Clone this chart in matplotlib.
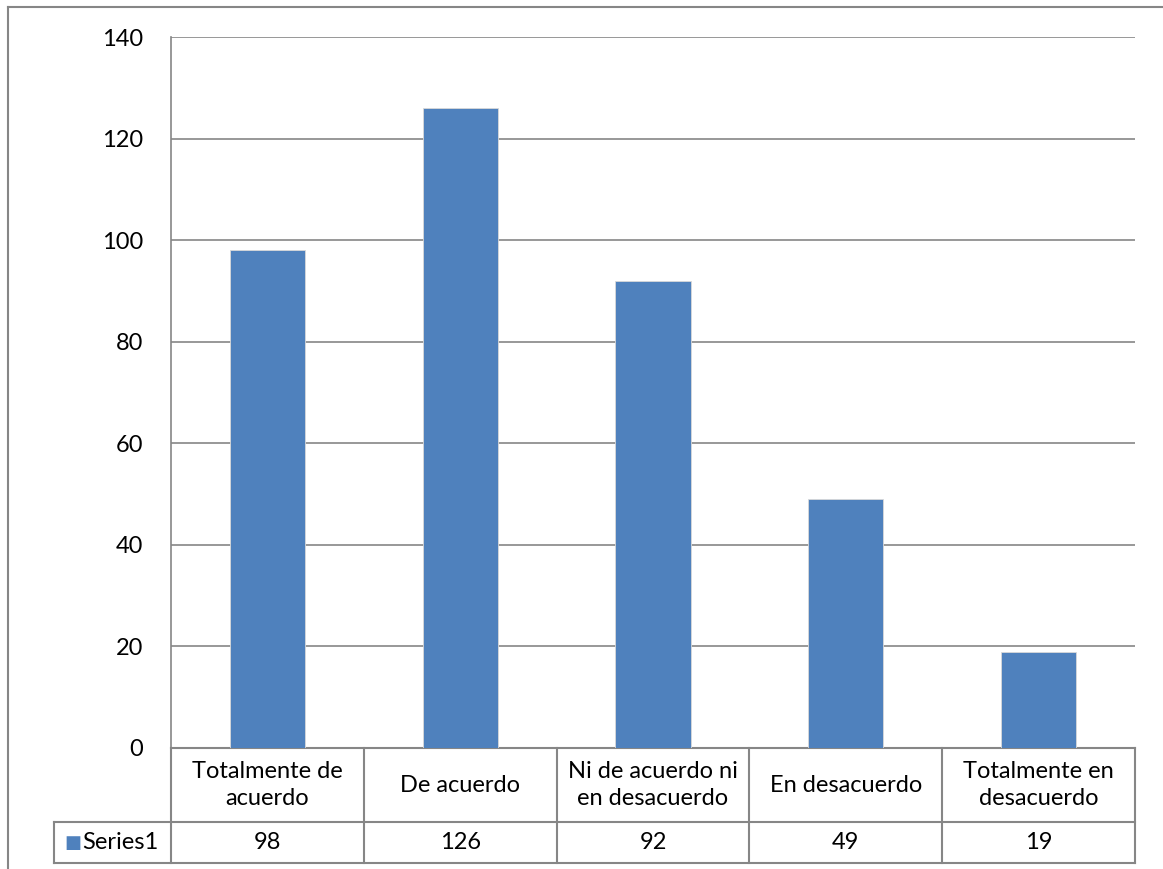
import matplotlib.pyplot as plt
from matplotlib.lines import Line2D
from matplotlib.transforms import blended_transform_factory

categorias = ["Totalmente de\nacuerdo", "De acuerdo", "Ni de acuerdo ni\nen desacuerdo",
              "En desacuerdo", "Totalmente en\ndesacuerdo"]
valores = [98, 126, 92, 49, 19]
serie = "Series1"
yticks = [0, 20, 40, 60, 80, 100, 120, 140]

plt.rcParams['font.family'] = ['Lato', 'DejaVu Sans']
gris = '#868686'
azul = '#4F81BD'
fs = 17

fig = plt.figure(figsize=(11.63, 8.69), dpi=100)
W, H = 1163, 869
ax = fig.add_axes([171 / W, 1 - 748 / H, (1135 - 171) / W, (748 - 37) / H])

x = list(range(len(valores)))
ax.bar(x, valores, width=0.39, color=azul, edgecolor='#d9d9d9', linewidth=0.6, zorder=3)
ax.set_xlim(-0.5, len(valores) - 0.5)
ax.set_ylim(0, 140)
ax.set_yticks(yticks)
ax.set_yticklabels([str(v) for v in yticks], fontsize=fs)
ax.tick_params(axis='y', length=0, pad=20)
ax.set_xticks([])
ax.grid(axis='y', color=gris, linewidth=1.2, zorder=0)
for s in ['top', 'right', 'bottom']:
    ax.spines[s].set_visible(False)
ax.spines['left'].set_color(gris)
ax.spines['left'].set_linewidth(1.2)

# tabla de datos debajo del eje
tr = blended_transform_factory(ax.transData, ax.transAxes)
ph = 748 - 37
y0 = 0
y1 = -(822 - 748) / ph
y2 = -(863 - 748) / ph
colw = (1135 - 171) / len(valores)
xl = -0.5 - (171 - 54) / colw
kw = dict(color=gris, linewidth=1.5, transform=tr, clip_on=False)
n = len(valores)
ax.add_line(Line2D([-0.5, n - 0.5], [y0, y0], **kw))
ax.add_line(Line2D([xl, n - 0.5], [y1, y1], **kw))
ax.add_line(Line2D([xl, n - 0.5], [y2, y2], **kw))
ax.add_line(Line2D([xl, xl], [y1, y2], **kw))
for i in range(n + 1):
    ax.add_line(Line2D([i - 0.5, i - 0.5], [y0, y2], **kw))
for i in range(n):
    ax.text(i, (y0 + y1) / 2, categorias[i], transform=tr, ha='center', va='center',
            fontsize=fs, linespacing=1.3, clip_on=False)
    ax.text(i, (y1 + y2) / 2, str(valores[i]), transform=tr, ha='center', va='center',
            fontsize=fs, clip_on=False)
ax.text(xl + 10 / colw, (y1 + y2) / 2, "\u25A0", transform=tr, ha='left', va='center',
        fontsize=13, color=azul, clip_on=False)
ax.text(xl + 28 / colw, (y1 + y2) / 2, serie, transform=tr, ha='left', va='center',
        fontsize=fs, clip_on=False)

# borde del área del gráfico
fig.add_artist(Line2D([8 / W, 1], [1 - 7 / H, 1 - 7 / H], color=gris, linewidth=1.5))
fig.add_artist(Line2D([8 / W, 8 / W], [0, 1 - 7 / H], color=gris, linewidth=1.5))

fig.savefig("out.png", dpi=100)
